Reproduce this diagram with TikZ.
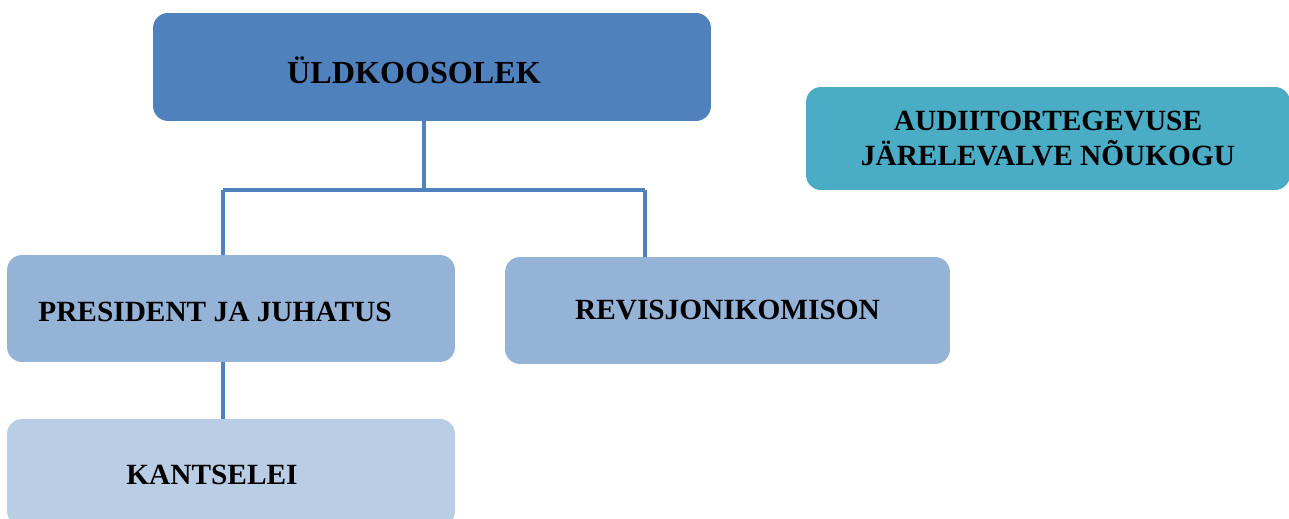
\documentclass[tikz,border=0pt]{standalone}
\usepackage{fontspec}
\setmainfont{Liberation Serif}
\usetikzlibrary{positioning}
\definecolor{topblue}{HTML}{4F81BD}
\definecolor{tealblue}{HTML}{4BACC6}
\definecolor{midblue}{HTML}{95B3D7}
\definecolor{paleblue}{HTML}{B9CDE5}
\begin{document}
\begin{tikzpicture}[x=0.02cm, y=-0.02cm]
\tikzset{
    block/.style={rectangle, rounded corners=0.3cm, inner sep=0pt, align=center,
      font=\bfseries\fontsize{16.7}{19.5}\selectfont},
    link/.style={draw=topblue, line width=2.2pt}
}
  \useasboundingbox (0,0) rectangle (1289,519);
  \node[block, fill=topblue, minimum width=11.16cm, minimum height=2.16cm,
    label={[font=\bfseries\fontsize{18.3}{21}\selectfont, xshift=-0.36cm, yshift=-0.06cm]center:ÜLDKOOSOLEK}] (meeting) at (432,67) {};
  \node[block, fill=tealblue, minimum width=9.68cm, minimum height=2.06cm] (audit) at (1048,138.5)
    {AUDIITORTEGEVUSE\\JÄRELEVALVE NÕUKOGU};
  \node[block, fill=midblue, minimum width=8.96cm, minimum height=2.14cm,
    label={[font=\bfseries\fontsize{16.7}{19.5}\selectfont, xshift=-0.32cm, yshift=-0.06cm]center:PRESIDENT JA JUHATUS}] (board) at (231,308.5) {};
  \node[block, fill=midblue, minimum width=8.9cm, minimum height=2.14cm] (audcom) at (727.5,310.5)
    {REVISJONIKOMISON};
  \node[block, fill=paleblue, minimum width=8.96cm, minimum height=2.14cm,
    label={[font=\bfseries\fontsize{16.7}{19.5}\selectfont, xshift=-0.38cm, yshift=-0.05cm]center:KANTSELEI}] (office) at (231,472.5) {};
  % branch points
  \coordinate (split) at (424,190);
  \coordinate (lbranch) at (223,190);
  \coordinate (rbranch) at (645,190);
  \draw[link] (meeting.south -| split) -- (split);
  \draw[link] (lbranch) -- (rbranch);
  \draw[link] (lbranch) -- (lbranch |- board.north);
  \draw[link] (rbranch) -- (rbranch |- audcom.north);
  \draw[link] (board.south -| lbranch) -- (lbranch |- office.north);
\end{tikzpicture}
\end{document}
